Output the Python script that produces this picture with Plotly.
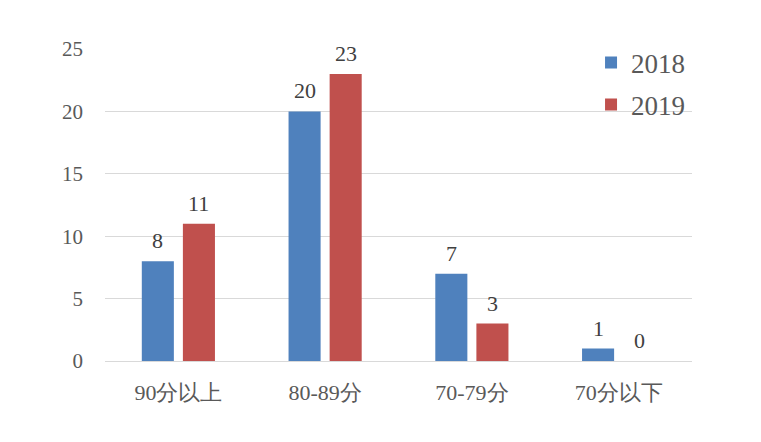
import plotly.graph_objects as go

# score bands and counts per year
categories = ['90分以上', '80-89分', '70-79分', '70分以下']
counts_2018 = [8, 20, 7, 1]
counts_2019 = [11, 23, 3, 0]
y_ticks = [0, 5, 10, 15, 20, 25]

FONT = 'Liberation Serif'  # CJK glyphs fall back on their own


def main():
    fig = go.Figure()
    fig.add_trace(go.Bar(x=categories, y=counts_2018, name='2018', legendgroup='a',
                         marker=dict(color='#4F81BD', line=dict(width=0))))
    fig.add_trace(go.Bar(x=categories, y=counts_2019, name='2019', legendgroup='b',
                         marker=dict(color='#C0504D', line=dict(width=0))))

    # data labels above each bar, shifted onto their own bar in the group
    for vals, shift in ((counts_2018, -20.5), (counts_2019, 20.5)):
        for cat, v in zip(categories, vals):
            fig.add_annotation(x=cat, y=v, text=str(v), showarrow=False,
                               xshift=shift, yshift=6, yanchor='bottom',
                               font=dict(family=FONT, size=22, color='#404040'))

    # page body adds 8px, so margins are set 8px smaller on the left/top
    fig.update_layout(
        width=761, height=442,
        margin=dict(l=97, r=77, t=41, b=89),
        paper_bgcolor='white', plot_bgcolor='white',
        barmode='group', bargap=0.44, bargroupgap=0.22,
        font=dict(family=FONT, color='#595959'),
        legend=dict(x=0.828, y=1.034, xanchor='left', yanchor='top',
                    tracegroupgap=4,
                    font=dict(family=FONT, size=27, color='#595959'),
                    bgcolor='rgba(0,0,0,0)'),
    )
    fig.update_xaxes(showline=True, linecolor='#D9D9D9', linewidth=1,
                     ticks='', ticklabelstandoff=12,
                     tickfont=dict(family=FONT, size=22, color='#595959'))
    fig.update_yaxes(range=[0, 25], tickvals=y_ticks, showgrid=True,
                     gridcolor='#D9D9D9', gridwidth=1, zeroline=False,
                     ticks='', ticklabelstandoff=21,
                     tickfont=dict(family=FONT, size=21, color='#595959'))

    fig.write_html('out.html')


if __name__ == '__main__':
    main()
